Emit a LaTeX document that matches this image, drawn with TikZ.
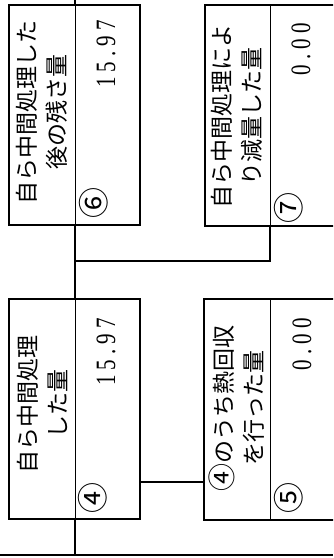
\documentclass[tikz,border=0pt]{standalone}
\usepackage{fontspec}
\newfontfamily\jp{Noto Sans CJK JP}
\newfontfamily\numfont[FakeStretch=0.75,LetterSpace=18]{Liberation Serif}
\tikzset{
  boxnode/.style={draw=black,line width=1.6pt,rectangle,inner sep=0pt,anchor=north west},
  divline/.style={line width=0.6pt},
  conn/.style={line width=1.6pt},
  labeltext/.style={rotate=90,align=center,inner sep=0pt,font=\jp\fontsize{23}{30}\selectfont},
  valtext/.style={rotate=90,anchor=east,inner sep=0pt,font=\numfont\fontsize{28}{30}\selectfont},
  circnum/.style={rotate=90,inner sep=0pt,font=\jp\fontsize{31}{34}\selectfont},
}
\begin{document}
\begin{tikzpicture}[x=1pt,y=-1pt]
\useasboundingbox (0,0) rectangle (333,558);
\clip (0,0) rectangle (333,558);
% boxes
\node[boxnode,minimum width=131pt,minimum height=220pt] (b6) at (8,4) {};
\node[boxnode,minimum width=141pt,minimum height=221pt] (b7) at (204,4) {};
\node[boxnode,minimum width=131pt,minimum height=220pt] (b4) at (8,298) {};
\node[boxnode,minimum width=142pt,minimum height=221pt] (b5) at (203,298) {};
% dividers
\draw[divline] (75,4) -- (75,224);
\draw[divline] (270,4) -- (270,225);
\draw[divline] (75,298) -- (75,518);
\draw[divline] (270,298) -- (270,519);
% connectors
\coordinate (top) at (75,0);
\coordinate (bot) at (75,555);
\coordinate (bl) at (0,555);
\coordinate (br) at (333,555);
\coordinate (j) at (75,261);
\coordinate (k) at (270,261);
\coordinate (m) at (0,482);
\draw[conn] (top) -- (top |- b6.north);
\draw[conn] (b6.south -| top) -- (b4.north -| top);
\draw[conn] (b4.south -| top) -- (bot);
\draw[conn] (bl) -- (br);
\draw[conn] (j) -- (k) -- (k |- b7.south);
\draw[conn] (b4.east |- m) -- (b5.west |- m);
% texts
\node[labeltext] (t6) at (42,112) {自ら中間処理した\\後の残さ量};
\node[labeltext] (t7) at (237,116) {自ら中間処理によ\\り減量した量};
\node[labeltext] (t4) at (42,404) {自ら中間処理\\した量};
\node[labeltext] (t5) at (237,408) {{\fontsize{28}{30}\selectfont ④}のうち熱回収\\を行った量};
\node[valtext] (v6) at (106,20) {15.97};
\node[valtext] (v7) at (301,23) {0.00};
\node[valtext] (v4) at (106,318) {15.97};
\node[valtext] (v5) at (302,318) {0.00};
\node[circnum] (c6) at (94,203) {⑥};
\node[circnum] (c7) at (289,208) {⑦};
\node[circnum] (c4) at (93,498) {④};
\node[circnum] (c5) at (289,498) {⑤};
\end{tikzpicture}
\end{document}
